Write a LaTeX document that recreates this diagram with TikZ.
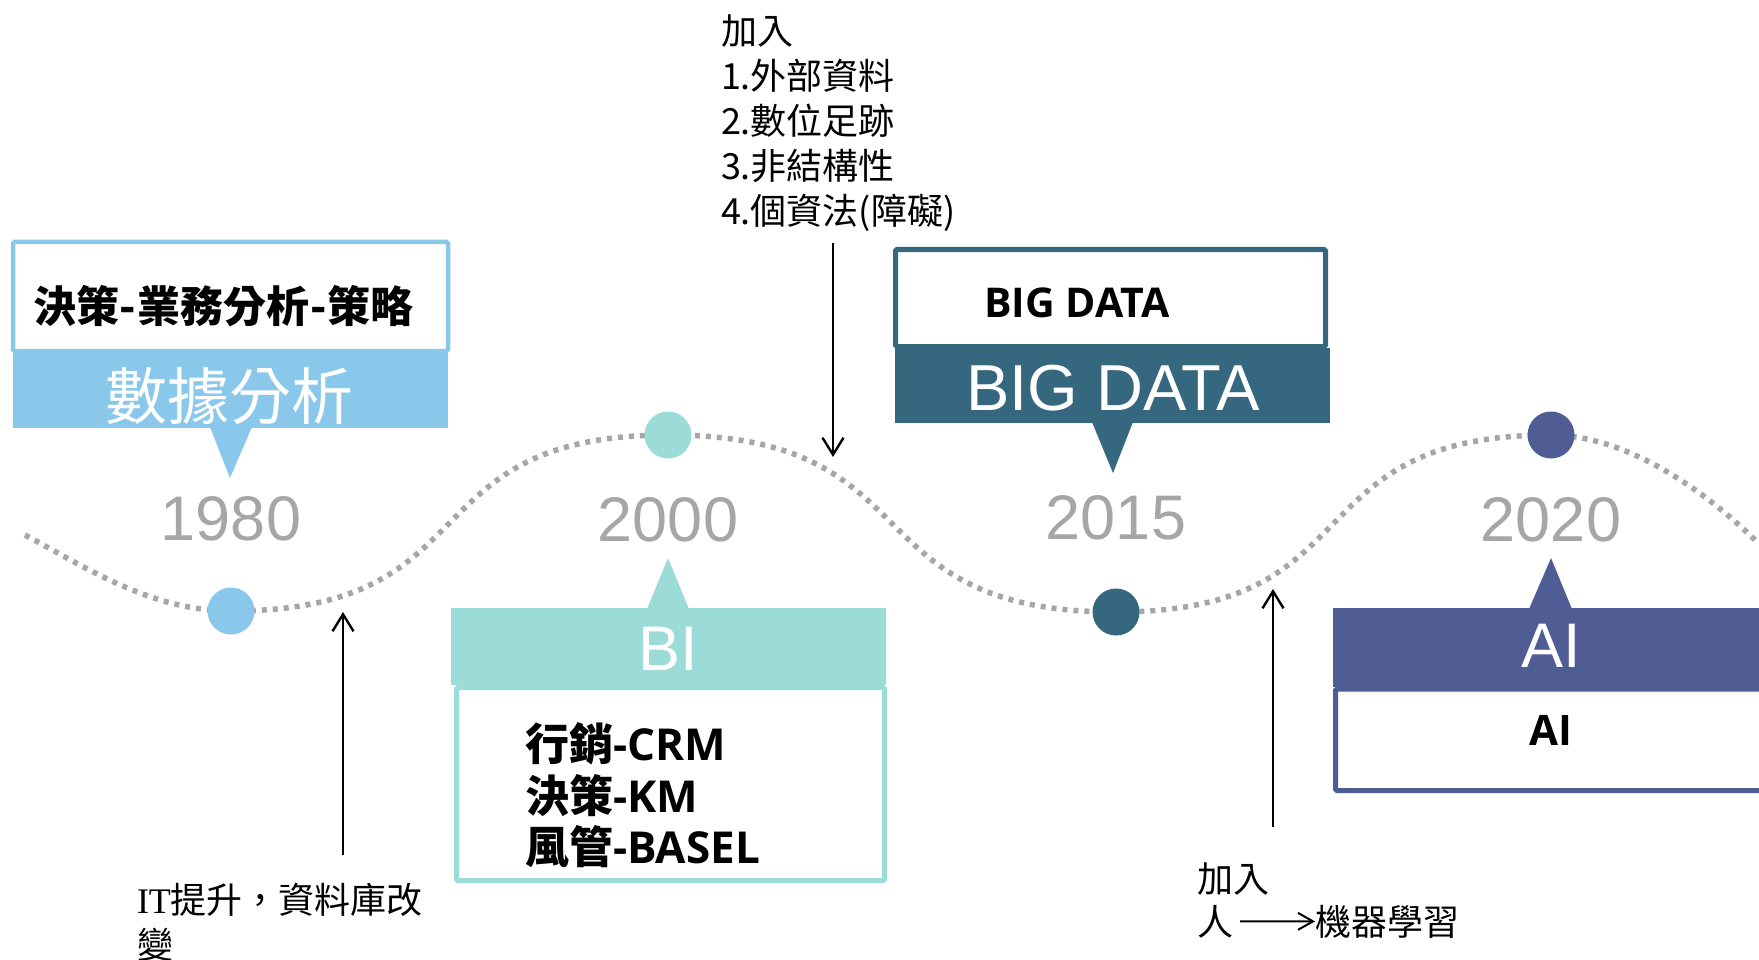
\documentclass[tikz,border=0pt]{standalone}
\usepackage{fontspec}
\setmainfont{Open Sans}
\newfontfamily\cjk{Noto Sans CJK TC}
\newfontfamily\arial{Liberation Sans}
\newfontfamily\tnr{Liberation Serif}
\usetikzlibrary{arrows.meta}
\definecolor{cA}{HTML}{89C8EB}
\definecolor{cB}{HTML}{9BDCD8}
\definecolor{cC}{HTML}{35677F}
\definecolor{cD}{HTML}{4F5D94}
\definecolor{yr}{HTML}{A6A6A6}
\newcommand\myhy{\hspace{1pt}-\hspace{1pt}}
\begin{document}
\begin{tikzpicture}[x=1pt,y=-1pt,
  every node/.style={inner sep=0pt, outer sep=0pt},
  dotnode/.style={circle, fill=#1, minimum size=47pt},
  bandbox/.style={rectangle, fill=#1, anchor=north west},
  framebox/.style={rectangle, draw=#1, line width=4.5pt, fill=white, anchor=north west, rounded corners=1.5pt},
  yearlbl/.style={text=yr, font=\arial\fontsize{63}{63}\selectfont, anchor=base},
  bandlbl/.style={text=white, anchor=base},
  boxtxt/.style={font=\bfseries\fontsize{44}{44}\selectfont, anchor=base west},
  note/.style={font=\cjk\fontsize{36}{45}\selectfont, anchor=base west},
  arr/.style={-{Straight Barb[length=17pt,width=21pt]}, line width=2.4pt},
  arrsmall/.style={-{Straight Barb[length=15pt,width=17pt]}, line width=2pt},
  wave/.style={draw=yr, line width=5.5pt, dash pattern=on 5pt off 6pt}
]
\useasboundingbox (0,0) rectangle (1759,960);

% dotted wave
\draw[wave] (25,535) .. controls (85,567) and (151,611) .. (231,611)
  .. controls (493.2,611) and (405.8,435) .. (668,435)
  .. controls (936.8,435) and (847.2,612) .. (1116,612)
  .. controls (1377,612) and (1290,435) .. (1551,435)
  .. controls (1621,435) and (1699,484) .. (1759,544);

% circles
\node[dotnode=cA] (c1) at (231,611) {};
\node[dotnode=cB] (c2) at (668,435) {};
\node[dotnode=cC] (c3) at (1116,612) {};
\node[dotnode=cD] (c4) at (1551,435) {};

% years
\node[yearlbl] (y1) at (231,540) {1980};
\node[yearlbl] (y2) at (668,541) {2000};
\node[yearlbl] (y3) at (1116,539) {2015};
\node[yearlbl] (y4) at (1551,541) {2020};

% 1980 callout
\node[bandbox=cA, minimum width=435pt, minimum height=77pt] (b1) at (13,351) {};
\node[framebox=cA, minimum width=435pt, minimum height=109pt] (f1) at (13,242) {};
\fill[cA] (210,427) -- (252,427) -- (230,478) -- cycle;
\node[bandlbl, font=\cjk\fontsize{62}{62}\selectfont] (t1) at (229,419) {數據分析};
\node[anchor=base west, font=\cjk\bfseries\fontsize{43}{43}\selectfont] (d1) at (33,322) {決策\myhy 業務分析\myhy 策略};

% 2000 callout
\node[framebox=cB, line width=5pt, minimum width=428pt, minimum height=193pt] (f2) at (456.5,687.5) {};
\node[bandbox=cB, minimum width=435pt, minimum height=77pt] (b2) at (451,608) {};
\fill[cB] (647,609) -- (689,609) -- (668,558) -- cycle;
\node[bandlbl, font=\arial\fontsize{63}{63}\selectfont] (t2) at (668,670) {BI};
\node[boxtxt] (d2a) at (525,760) {{\cjk 行銷}-CRM};
\node[boxtxt] (d2b) at (525,812) {{\cjk 決策}-KM};
\node[boxtxt] (d2c) at (525,863) {{\cjk 風管}-BASEL};

% 2015 callout
\node[bandbox=cC, minimum width=435pt, minimum height=75pt] (b3) at (895,348) {};
\node[framebox=cC, line width=5pt, minimum width=430pt, minimum height=97pt] (f3) at (895.5,249.5) {};
\fill[cC] (1092,422) -- (1133,422) -- (1113,473) -- cycle;
\node[bandlbl, font=\arial\fontsize{65}{65}\selectfont] (t3) at (1113,410) {BIG DATA};
\node[anchor=base, font=\bfseries\fontsize{41}{41}\selectfont] (d3) at (1077,317) {BIG DATA};

% 2020 callout
\node[framebox=cD, line width=5pt, minimum width=455pt, minimum height=101.5pt] (f4) at (1335.5,689) {};
\node[bandbox=cD, minimum width=450pt, minimum height=79pt] (b4) at (1333,608) {};
\fill[cD] (1529,609) -- (1572,609) -- (1551,558) -- cycle;
\node[bandlbl, font=\arial\fontsize{63}{63}\selectfont] (t4) at (1551,667) {AI};
\node[anchor=base, font=\bfseries\fontsize{42}{42}\selectfont] (d4) at (1551,745) {AI};

% annotation: top
\node[note] (n1a) at (721,45) {加入};
\node[note] (n1b) at (721,90) {1.外部資料};
\node[note] (n1c) at (721,135) {2.數位足跡};
\node[note] (n1d) at (721,180) {3.非結構性};
\node[note] (n1e) at (721,225) {4.個資法(障礙)};
\coordinate (a1s) at (833,243);
\coordinate (a1e) at (833,457);
\draw[arr] (a1s) -- (a1e);

% annotation: IT
\node[note] (n2a) at (137,913) {{\tnr IT}提升，資料庫改};
\node[note] (n2b) at (137,958) {變};
\coordinate (a2s) at (343,855);
\coordinate (a2e) at (343,612);
\draw[arr] (a2s) -- (a2e);

% annotation: machine learning
\node[note] (n3a) at (1197,892) {加入};
\node[note] (n3b) at (1197,935) {人};
\node[note] (n3c) at (1315,935) {機器學習};
\draw[arrsmall] ([xshift=7pt]n3b.east) -- (n3c.west);
\coordinate (a3s) at (1273,827);
\coordinate (a3e) at (1273,589);
\draw[arr] (a3s) -- (a3e);
\end{tikzpicture}
\end{document}
